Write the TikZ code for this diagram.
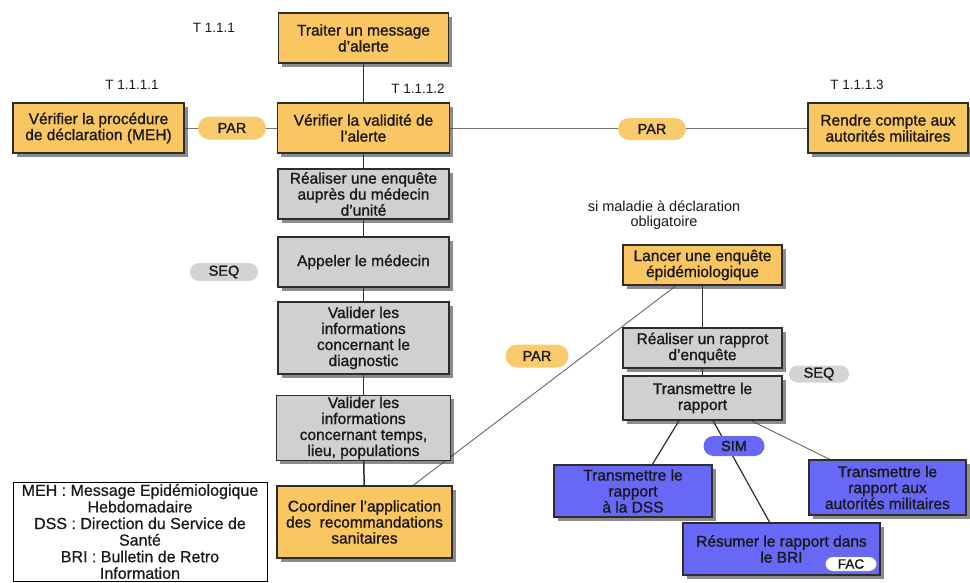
\documentclass[tikz,border=0pt]{standalone}
\usepackage{fontspec}
\setmainfont{Liberation Sans}
\usetikzlibrary{shadows,shapes.misc}
\definecolor{orgbox}{RGB}{249,198,98}
\definecolor{graybox}{RGB}{208,208,208}
\definecolor{bluebox}{RGB}{104,104,246}
\definecolor{parfill}{RGB}{250,203,108}
\definecolor{seqfill}{RGB}{212,212,212}
\definecolor{boxline}{RGB}{45,45,45}
\definecolor{txt}{RGB}{25,25,25}
\pgfdeclarelayer{edges}
\pgfsetlayers{edges,main}
\begin{document}
\begin{tikzpicture}[x=1pt,y=-1pt,
  task/.style={draw=boxline, line width=1.2pt, align=center, inner sep=1pt,
    font=\fontsize{15.5}{16}\selectfont\addfontfeature{FakeBold=1.2}, text=txt,
    drop shadow={shadow xshift=3.5pt,shadow yshift=-3.5pt,fill=black!75,opacity=0.6}},
  otask/.style={task, fill=orgbox},
  gtask/.style={task, fill=graybox},
  btask/.style={task, fill=bluebox},
  pill/.style={rounded rectangle, inner sep=1pt, text=txt,
    font=\fontsize{14.5}{15}\selectfont\addfontfeature{FakeBold=1.2}},
  lbl/.style={text=txt, inner sep=0pt, align=center, font=\fontsize{13.5}{15}\selectfont},
  vline/.style={draw=boxline, line width=1.5pt},
  gline/.style={draw=black!55, line width=1pt},
  dline/.style={draw=black!60, line width=0.9pt},
  fline/.style={draw=boxline, line width=1.2pt}]
\useasboundingbox (0,0) rectangle (970,582);

% left column
\node[otask, minimum width=170pt, minimum height=50pt] (t1) at (363.5,38) {Traiter un message\\d'alerte};
\node[otask, minimum width=171pt, minimum height=50pt] (vp) at (98.5,128) {Vérifier la procédure\\de déclaration (MEH)};
\node[otask, minimum width=172pt, minimum height=50pt] (vv) at (363.5,128) {Vérifier la validité de\\l'alerte};
\node[otask, minimum width=160pt, minimum height=50pt] (rc) at (888,128) {Rendre compte aux\\autorités militaires};
\node[gtask, minimum width=171pt, minimum height=50pt] (re) at (363.5,194) {Réaliser une enquête\\auprès du médecin\\d'unité};
\node[gtask, minimum width=171pt, minimum height=50pt] (ap) at (363.5,262) {Appeler le médecin};
\node[gtask, minimum width=171pt, minimum height=72pt] (vd) at (363.5,338) {Valider les\\informations\\concernant le\\diagnostic};
\node[gtask, minimum width=174pt, minimum height=64pt] (vt) at (363.5,428) {Valider les\\informations\\concernant temps,\\lieu, populations};
\node[otask, minimum width=175pt, minimum height=72pt] (co) at (364.5,522) {Coordiner l'application\\des\ \ recommandations\\sanitaires};

% right column
\node[otask, minimum width=159pt, minimum height=40pt] (la) at (702.5,265) {Lancer une enquête\\épidémiologique};
\node[gtask, minimum width=159pt, minimum height=40pt] (rr) at (702.5,348) {Réaliser un rapprot\\d'enquête};
\node[gtask, minimum width=159pt, minimum height=44pt] (tr) at (702.5,398) {Transmettre le\\rapport};
\node[btask, minimum width=158pt, minimum height=52pt] (dss) at (633,491) {Transmettre le\\rapport\\à la DSS};
\node[btask, minimum width=157pt, minimum height=55pt] (ram) at (887.5,487.5) {Transmettre le\\rapport aux\\autorités militaires};
\node[btask, minimum width=197pt, minimum height=52pt] (bri) at (781.5,549) {Résumer le rapport dans\\le BRI};

% legend
\node[draw=black, line width=1pt, fill=white, align=center, inner sep=1pt,
  minimum width=254pt, minimum height=99pt, text=txt,
  font=\fontsize{16}{16.6}\selectfont\addfontfeature{FakeBold=0.6}] (leg) at (140,531.5)
  {MEH : Message Epidémiologique\\Hebdomadaire\\DSS : Direction du Service de\\Santé\\BRI : Bulletin de Retro\\Information};

% labels
\node[lbl] (l1) at (214,28) {T 1.1.1};
\node[lbl] (l2) at (132,85) {T 1.1.1.1};
\node[lbl] (l3) at (418,89) {T 1.1.1.2};
\node[lbl] (l4) at (857,85) {T 1.1.1.3};
\node[lbl, font=\fontsize{14.5}{15}\selectfont] (l5) at (664,215) {si maladie à déclaration\\obligatoire};

% connectors
\begin{pgfonlayer}{edges}
\draw[vline] (t1) -- (vv);
\draw[gline] (vp) -- (vv);
\draw[gline] (vv) -- (rc);
\draw[vline] (vv) -- (re);
\draw[vline] (re) -- (ap);
\draw[vline] (ap) -- (vd);
\draw[vline] (vd) -- (vt);
\draw[vline] (vt) -- (co);
\draw[dline] (co.37) -- (la.218);
\draw[vline] (la) -- (rr);
\draw[vline] (rr) -- (tr);
\draw[fline] (tr.224) -- (dss.54);
\draw[fline] (tr.295) -- (bri.114);
\draw[dline] (tr.335) -- (ram.154);
\end{pgfonlayer}

% operators
\node[pill, fill=parfill, minimum width=70pt, minimum height=23pt] (par1) at (232,128) {PAR};
\node[pill, fill=parfill, minimum width=70pt, minimum height=22pt] (par2) at (652,129) {PAR};
\node[pill, fill=seqfill, minimum width=70pt, minimum height=18pt] (seq1) at (224,272) {SEQ};
\node[pill, fill=parfill, minimum width=65pt, minimum height=23pt] (par3) at (537,356) {PAR};
\node[pill, fill=seqfill, minimum width=62pt, minimum height=17pt] (seq2) at (819,374) {SEQ};
\node[pill, fill=bluebox, minimum width=63pt, minimum height=20pt] (sim) at (734,446) {SIM};
\node[pill, fill=white, draw=black!40, minimum width=53pt, minimum height=14pt,
  font=\fontsize{13.5}{14}\selectfont\addfontfeature{FakeBold=1.2}] (fac) at (851,564) {FAC};
\end{tikzpicture}
\end{document}
